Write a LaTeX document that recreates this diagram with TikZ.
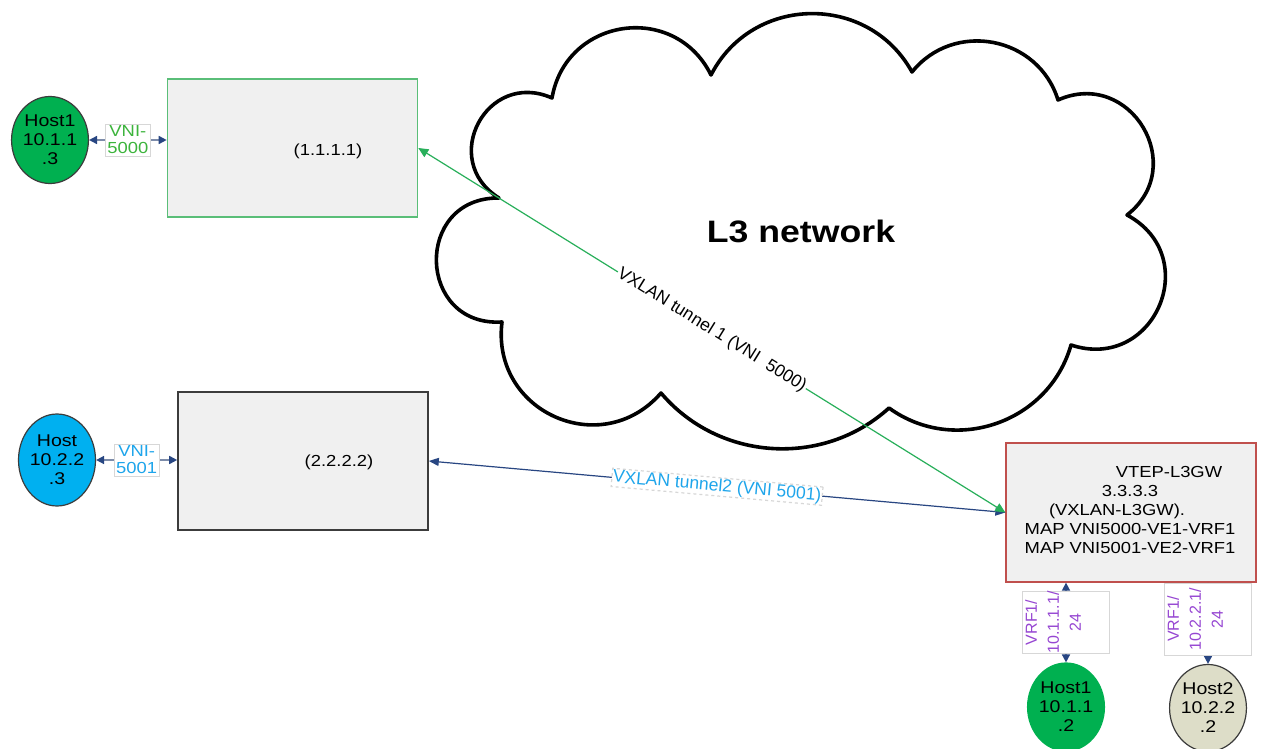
\documentclass[tikz,border=0pt]{standalone}
\usepackage{fontspec}
\setmainfont{Liberation Sans}[FakeStretch=1.15]
\newfontfamily\plainfont{Liberation Sans}
\usetikzlibrary{arrows.meta,calc,shapes.geometric}
\definecolor{hostgreen}{RGB}{0,176,80}
\definecolor{hostblue}{RGB}{0,176,240}
\definecolor{hostbeige}{RGB}{221,221,200}
\definecolor{boxfill}{RGB}{240,240,240}
\definecolor{greenedge}{RGB}{90,190,120}
\definecolor{rededge}{RGB}{192,80,77}
\definecolor{darkedge}{RGB}{60,60,60}
\definecolor{navyc}{RGB}{40,70,130}
\definecolor{linkgray}{RGB}{125,140,170}
\definecolor{tungreen}{RGB}{40,175,90}
\definecolor{vnigreen}{RGB}{60,180,60}
\definecolor{vniblue}{RGB}{30,165,235}
\definecolor{vrfpurple}{RGB}{150,70,210}
\definecolor{labeledge}{RGB}{215,215,215}
\begin{document}
\begin{tikzpicture}[x=1pt,y=-1pt,
  hoststyle/.style={ellipse, draw=darkedge, line width=1.2pt, minimum width=74pt, minimum height=87pt, inner sep=0pt, align=center, font=\fontsize{17}{19}\selectfont},
  devicebox/.style={rectangle, fill=boxfill, line width=1.6pt, inner sep=0pt, minimum width=250pt, minimum height=138pt},
  boxtext/.style={align=center, inner sep=0pt, font=\fontsize{16}{19}\selectfont},
  hostlink/.style={draw=linkgray, line width=1.6pt, arrows={Triangle[length=8pt,width=8pt,color=navyc]-Triangle[length=8pt,width=8pt,color=navyc]}},
  vnilabel/.style={fill=white, draw=labeledge, line width=0.6pt, inner sep=2pt, align=center, font=\fontsize{16}{17}\selectfont},
  tunnelone/.style={draw=tungreen, line width=1.2pt, arrows={Triangle[length=10pt,width=9pt]-Triangle[length=10pt,width=9pt]}},
  tunneltwo/.style={draw=navyc, line width=1.2pt, arrows={Triangle[length=10pt,width=8pt]-Triangle[length=10pt,width=8pt]}},
  tunnellabel/.style={sloped, pos=0.5, fill=white, inner sep=1pt, font=\plainfont\fontsize{17.5}{19}\selectfont},
  cloudline/.style={draw=black, line width=3.6pt, fill=white, line join=round},
  vrflabel/.style={fill=white, draw=labeledge, line width=0.6pt, rotate=90, minimum width=61pt, minimum height=87pt, align=center, text=vrfpurple, font=\plainfont\fontsize{16}{22}\selectfont, inner sep=0pt, text depth=26pt}
]
\useasboundingbox (0,0) rectangle (1261,749);
\fill[white] (0,0) rectangle (1261,749);

% cloud
\coordinate (cA) at (499,198);
\coordinate (cB) at (552,98);
\coordinate (cC) at (711,75);
\coordinate (cD) at (912,72);
\coordinate (cE) at (1058,100);
\coordinate (cF) at (1127,215);
\coordinate (cG) at (1071,345);
\coordinate (cH) at (889,408);
\coordinate (cI) at (661,393);
\coordinate (cJ) at (502,322);
\path[cloudline] (cA)
  .. controls ($(cA)!0.63!86:(cB)$) and ($(cB)!0.63!-86:(cA)$) .. (cB)
  .. controls ($(cB)!0.51!72:(cC)$) and ($(cC)!0.51!-72:(cB)$) .. (cC)
  .. controls ($(cC)!0.45!62:(cD)$) and ($(cD)!0.45!-62:(cC)$) .. (cD)
  .. controls ($(cD)!0.45!62:(cE)$) and ($(cE)!0.45!-62:(cD)$) .. (cE)
  .. controls ($(cE)!0.59!83:(cF)$) and ($(cF)!0.59!-83:(cE)$) .. (cF)
  .. controls ($(cF)!0.62!85:(cG)$) and ($(cG)!0.62!-85:(cF)$) .. (cG)
  .. controls ($(cG)!0.42!55:(cH)$) and ($(cH)!0.42!-55:(cG)$) .. (cH)
  .. controls ($(cH)!0.39!46:(cI)$) and ($(cI)!0.39!-46:(cH)$) .. (cI)
  .. controls ($(cI)!0.52!73:(cJ)$) and ($(cJ)!0.52!-73:(cI)$) .. (cJ)
  .. controls ($(cJ)!0.69!92:(cA)$) and ($(cA)!0.69!-92:(cJ)$) .. (cA) -- cycle;
\node[font=\bfseries\fontsize{31}{33}\selectfont, inner sep=0pt] (l3) at (801,231) {L3 network};

% devices
\node[devicebox, draw=greenedge] (box1) at (292.5,148) {};
\node[devicebox, draw=darkedge] (box2) at (303,461) {};
\node[devicebox, draw=rededge, line width=1.3pt, minimum height=139pt] (box3) at (1131,512.5) {};
\node[boxtext] (ip1) at (328,151) {(1.1.1.1)};
\node[boxtext] (ip2) at (339,462) {(2.2.2.2)};
\node[boxtext] (gw) at (1130,510) {\hspace*{78pt}VTEP-L3GW\\3.3.3.3\\\mbox{(VXLAN-L3GW).}\hspace*{26pt}\mbox{}\\MAP VNI5000-VE1-VRF1\\MAP VNI5001-VE2-VRF1};

% hosts
\node[hoststyle, fill=hostgreen] (hostA) at (50,140) {Host1\\10.1.1\\.3};
\node[hoststyle, fill=hostblue, minimum width=77pt, minimum height=92pt] (hostB) at (57,460) {Host\\10.2.2\\.3};
\node[hoststyle, fill=hostgreen, draw=hostgreen, minimum height=88pt] (hostC) at (1066,707) {Host1\\10.1.1\\.2};
\node[hoststyle, fill=hostbeige] (hostD) at (1208,708) {Host2\\10.2.2\\.2};

% host links
\draw[hostlink] (hostA.east) -- node[vnilabel, text=vnigreen] (vniA) {VNI-\\5000} (hostA.east -| box1.west);
\draw[hostlink] (hostB.east) -- node[vnilabel, text=vniblue] (vniB) {VNI-\\5001} (hostB.east -| box2.west);
\draw[hostlink] (hostC.north |- box3.south) -- node[vrflabel] (vrfA) {VRF1/\\10.1.1.1/\\24} (hostC.north);
\draw[hostlink] (hostD.north |- box3.south) -- node[vrflabel, minimum width=72pt, pos=0.45] (vrfB) {VRF1/\\10.2.2.1/\\24} (hostD.north);

% tunnels
\draw[tunneltwo] (box2.east) -- node[tunnellabel, draw=labeledge, dashed, text=vniblue] (t2lbl) {VXLAN tunnel2 (VNI 5001)} (box3.west);
\draw[tunnelone] (box1.east) -- node[tunnellabel, text=black] (t1lbl) {VXLAN tunnel 1 (VNI\ \ 5000)} (box3.west);
\end{tikzpicture}
\end{document}
